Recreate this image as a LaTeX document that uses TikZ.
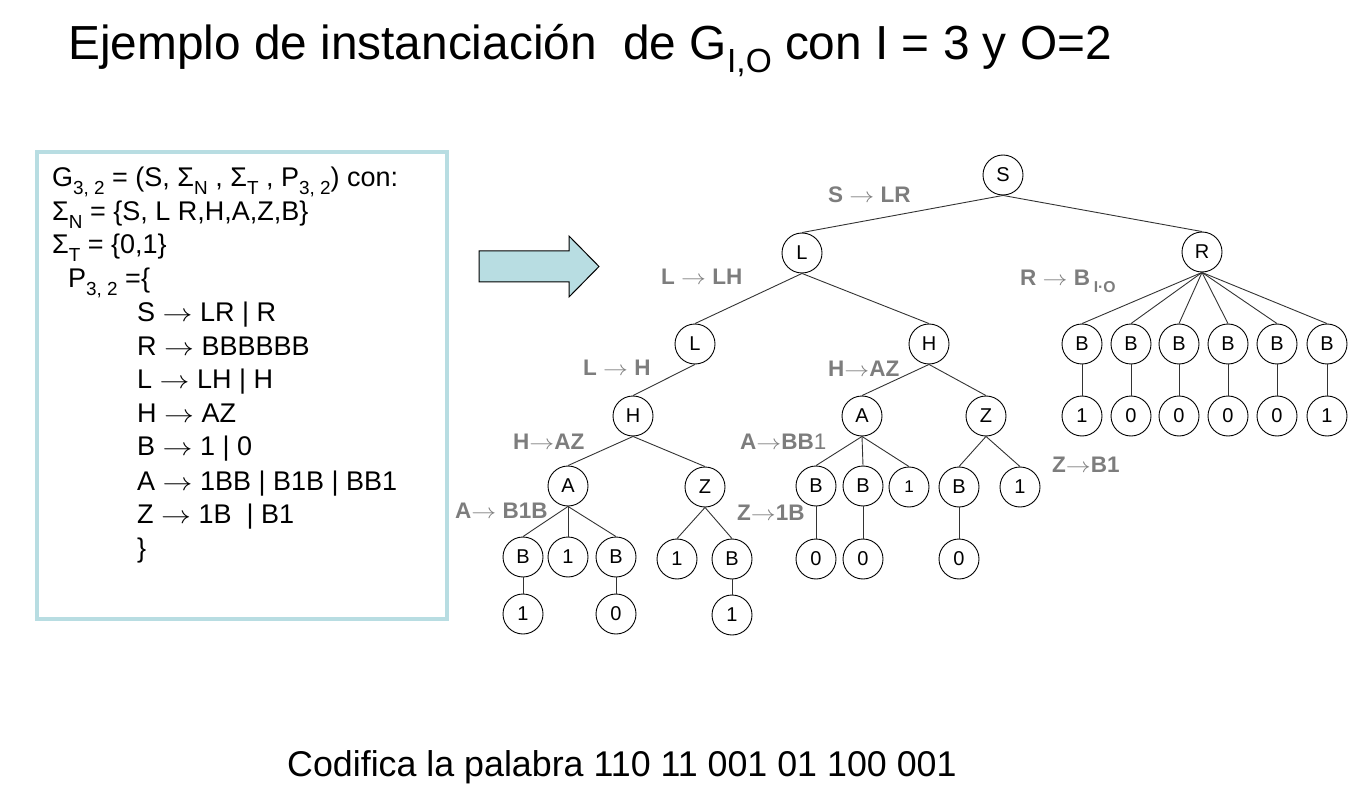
\documentclass[tikz,border=0pt]{standalone}
\usepackage{fontspec}
\setmainfont{Liberation Sans}
\definecolor{boxc}{RGB}{184,221,226}
\definecolor{lbl}{RGB}{125,125,125}
\newcommand\dn[1]{\raisebox{-0.27em}{\scalebox{0.7}{#1}}}
\newcommand\ar{\scalebox{1.2}[1]{\(\rightarrow\)}}
\begin{document}
\begin{tikzpicture}[x=1pt,y=-1pt,
  nd/.style={circle,draw,line width=0.9pt,minimum size=40pt,inner sep=0pt,font=\fontsize{20}{20}\selectfont},
  ed/.style={draw=black!80,line width=0.9pt},
  lb/.style={anchor=base west,inner sep=0pt,text=lbl,font=\fontsize{22.5}{22.5}\selectfont\bfseries},
  txt/.style={anchor=base west,inner sep=0pt,font=\fontsize{27}{27}\selectfont}]
\useasboundingbox (0,0) rectangle (1368,810);
% title
\node[anchor=base west,inner sep=0pt,font=\fontsize{47.8}{47.8}\selectfont] (title) at (68,60)
  {Ejemplo de instanciación\ \ de G\dn{I,O} con I = 3 y O=2};
% bottom
\node[anchor=base west,inner sep=0pt,font=\fontsize{35.8}{35.8}\selectfont] (code) at (287,776)
  {Codifica la palabra 110 11 001 01 100 001};
% box
\draw[boxc,line width=4pt] (37,152) rectangle (447,619);
\node[txt] (t1) at (52,187) {G\dn{3, 2} = (S, Σ\dn{N} , Σ\dn{T} , P\dn{3, 2}) con:};
\node[txt] (t2) at (52,221) {Σ\dn{N} = \{S, L R,H,A,Z,B\}};
\node[txt] (t3) at (52,254) {Σ\dn{T} = \{0,1\}};
\node[txt] (t4) at (68,288) {P\dn{3, 2} =\{};
\node[txt] (t5) at (137,322) {S \ar{} LR | R};
\node[txt] (t6) at (137,355) {R \ar{} BBBBBB};
\node[txt] (t7) at (137,388) {L \ar{} LH | H};
\node[txt] (t8) at (137,422) {H \ar{} AZ};
\node[txt] (t9) at (137,455) {B \ar{} 1 | 0};
\node[txt] (t10) at (137,490) {A \ar{} 1BB | B1B | BB1};
\node[txt] (t11) at (137,523) {Z \ar{} 1B\ \ | B1};
\node[txt] (t12) at (137,557) {\}};
% block arrow
\draw[fill=boxc,line width=1pt] (479,251) -- (569,251) -- (569,236) -- (599,266.5) -- (569,297) -- (569,282) -- (479,282) -- cycle;
% tree nodes
\node[nd] (S) at (1003,175) {S};
\node[nd] (L1) at (802,253) {L};
\node[nd] (R) at (1202,252) {R};
\node[nd] (L2) at (695,344) {L};
\node[nd] (H1) at (929,344) {H};
\node[nd] (H2) at (633,416) {H};
\node[nd] (A1) at (568,486) {A};
\node[nd] (Z1) at (705,487) {Z};
\node[nd] (A1b1) at (523,557) {B};
\node[nd] (A1o) at (568,557) {1};
\node[nd] (A1b2) at (616,557) {B};
\node[nd] (A1l1) at (523,614) {1};
\node[nd] (A1l2) at (616,614) {0};
\node[nd] (Z1o) at (677,559) {1};
\node[nd] (Z1b) at (732,559) {B};
\node[nd] (Z1l) at (732,615) {1};
\node[nd] (A2) at (862,416) {A};
\node[nd] (Z2) at (986,416) {Z};
\node[nd] (A2b1) at (816,486) {B};
\node[nd] (A2b2) at (863,486) {B};
\node[nd,font=\fontsize{17}{17}\selectfont] (A2o) at (909,487) {1};
\node[nd] (Z2b) at (959,487) {B};
\node[nd] (Z2o) at (1020,487) {1};
\node[nd] (A2l1) at (816,559) {0};
\node[nd] (A2l2) at (863,559) {0};
\node[nd] (Z2l) at (959,559) {0};
\foreach \i/\x/\v in {1/1082/1,2/1131/0,3/1179/0,4/1228/0,5/1277/0,6/1327/1}{
  \node[nd] (RB\i) at (\x,344) {B};
  \node[nd] (RL\i) at (\x,416) {\v};
}
% edges
\draw[ed] (S.south) -- (L1.north);
\draw[ed] (S.south) -- (R.north);
\draw[ed] (L1.south) -- (L2.north);
\draw[ed] (L1.south) -- (H1.north);
\draw[ed] (L2.south) -- (H2.north);
\draw[ed] (H2.south) -- (A1.north);
\draw[ed] (H2.south) -- (Z1.north);
\draw[ed] (A1.south) -- (A1b1.north);
\draw[ed] (A1.south) -- (A1o.north);
\draw[ed] (A1.south) -- (A1b2.north);
\draw[ed] (A1b1.south) -- (A1l1.north);
\draw[ed] (A1b2.south) -- (A1l2.north);
\draw[ed] (Z1.south) -- (Z1o.north);
\draw[ed] (Z1.south) -- (Z1b.north);
\draw[ed] (Z1b.south) -- (Z1l.north);
\draw[ed] (H1.south) -- (A2.north);
\draw[ed] (H1.south) -- (Z2.north);
\draw[ed] (A2.south) -- (A2b1.north);
\draw[ed] (A2.south) -- (A2b2.north);
\draw[ed] (A2.south) -- (A2o.north);
\draw[ed] (A2b1.south) -- (A2l1.north);
\draw[ed] (A2b2.south) -- (A2l2.north);
\draw[ed] (Z2.south) -- (Z2b.north);
\draw[ed] (Z2.south) -- (Z2o.north);
\draw[ed] (Z2b.south) -- (Z2l.north);
\foreach \i in {1,...,6}{
  \draw[ed] (R.south) -- (RB\i.north);
  \draw[ed] (RB\i.south) -- (RL\i.north);
}
% labels
\node[lb] (lS) at (828,203) {S \ar{} LR};
\node[lb] (lL1) at (661,285) {L \ar{} LH};
\node[lb] (lR) at (1020,286) {R \ar{} B\,\dn{I·O}};
\node[lb] (lL2) at (583,375) {L \ar{} H};
\node[lb] (lH1) at (828,376) {H\ar{}AZ};
\node[lb] (lH2) at (513,449) {H\ar{}AZ};
\node[lb] (lA2) at (740,449) {A\ar{}BB{\mdseries 1}};
\node[lb] (lZ2) at (1052,472) {Z\ar{}B1};
\node[lb] (lA1) at (455,518) {A\ar{} B1B};
\node[lb] (lZ1) at (737,520) {Z\ar{}1B};
\end{tikzpicture}
\end{document}
